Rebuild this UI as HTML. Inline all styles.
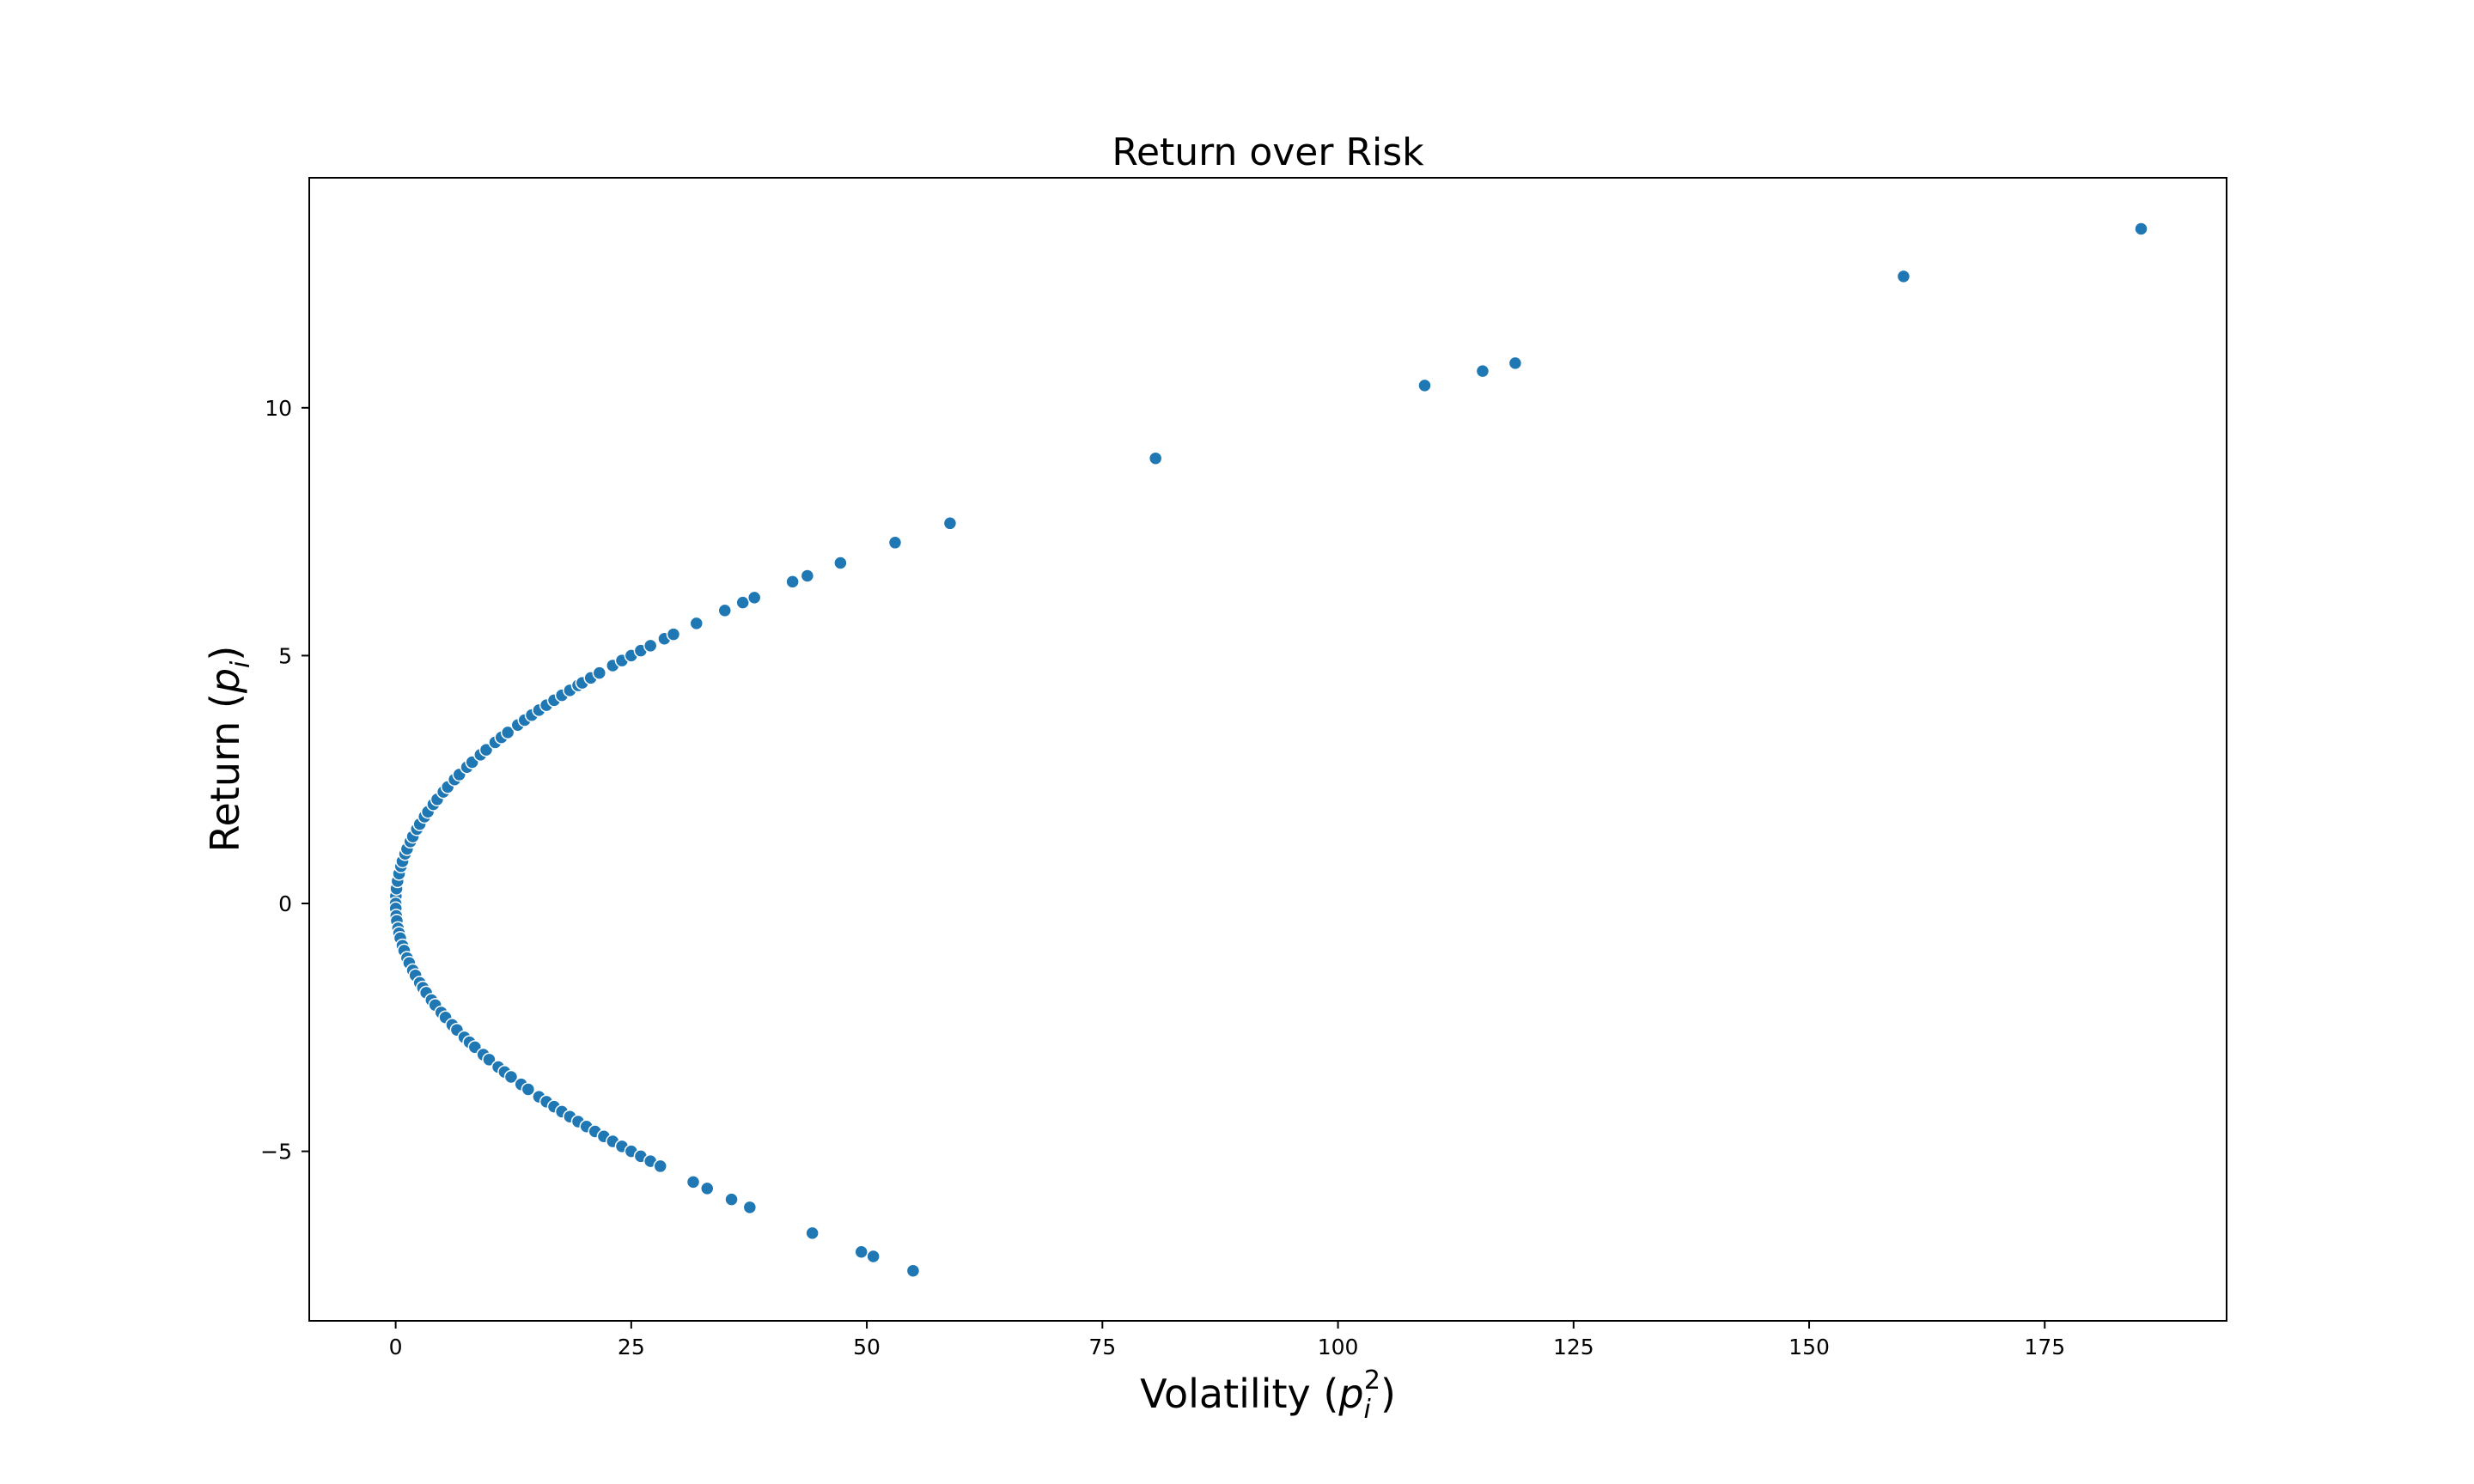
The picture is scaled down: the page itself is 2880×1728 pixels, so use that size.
<!DOCTYPE html>
<html><head><meta charset="utf-8"><style>
html,body{margin:0;padding:0;background:#fff;}
svg{display:block;font-family:"DejaVu Sans","Liberation Sans",sans-serif;}
</style></head><body>
<svg id="chart" width="2880" height="1728" viewBox="0 0 2880 1728" xmlns="http://www.w3.org/2000/svg">
<rect width="2880" height="1728" fill="#fff"/>
<g id="points"></g>
<g id="axes"></g>
<text x="1476" y="192" font-size="44" text-anchor="middle" fill="#000">Return over Risk</text>
<text x="1476" y="1639" font-size="46" text-anchor="middle" fill="#000">Volatility (<tspan font-style="italic">p</tspan><tspan font-style="italic" font-size="30" dy="12">i</tspan><tspan font-size="30" dy="-34" dx="-8">2</tspan><tspan dy="22">)</tspan></text>
<text transform="translate(278,872) rotate(-90)" font-size="46" text-anchor="middle" fill="#000">Return (<tspan font-style="italic">p</tspan><tspan font-style="italic" font-size="30" dy="12">i</tspan><tspan dy="-12">)</tspan></text>
</svg>
<script>
const volatility = [
0.0025,0.0225,0.09,0.2025,0.36,0.5625,0.7225,1.0,1.21,1.5625,1.8225,2.25,2.56,3.0625,3.4225,4.0,4.41,5.0625,5.5225,6.25,6.76,7.5625,8.1225,9.0,9.61,10.5625,11.2225,11.9025,12.96,13.69,14.44,15.21,16.0,16.81,17.64,18.49,19.36,19.8025,20.7025,21.6225,23.04,24.01,25.0,26.01,27.04,
28.52,29.48,31.92,34.93,36.84,38.07,42.12,43.69,47.2,53.0,58.83,80.64,109.2,115.35,118.81,160.02,185.23,
0,0.01,0.0625,0.1225,0.25,0.36,0.49,0.7225,0.9025,1.21,1.44,1.8225,2.1025,2.56,2.89,3.24,3.8025,4.2025,4.84,5.29,6.0025,6.5025,7.29,7.84,8.41,9.3025,9.9225,10.89,11.56,12.25,13.3225,14.0625,15.21,16.0,16.81,17.64,18.49,19.36,20.25,21.16,22.09,23.04,24.01,25.0,26.01,27.04,28.09,
31.58,33.06,35.64,37.58,44.22,49.42,50.69,54.91];
const returns = [
0.05,0.15,0.3,0.45,0.6,0.75,0.85,1.0,1.1,1.25,1.35,1.5,1.6,1.75,1.85,2.0,2.1,2.25,2.35,2.5,2.6,2.75,2.85,3.0,3.1,3.25,3.35,3.45,3.6,3.7,3.8,3.9,4.0,4.1,4.2,4.3,4.4,4.45,4.55,4.65,4.8,4.9,5.0,5.1,5.2,
5.34,5.43,5.65,5.91,6.07,6.17,6.49,6.61,6.87,7.28,7.67,8.98,10.45,10.74,10.9,12.65,13.61,
0,-0.1,-0.25,-0.35,-0.5,-0.6,-0.7,-0.85,-0.95,-1.1,-1.2,-1.35,-1.45,-1.6,-1.7,-1.8,-1.95,-2.05,-2.2,-2.3,-2.45,-2.55,-2.7,-2.8,-2.9,-3.05,-3.15,-3.3,-3.4,-3.5,-3.65,-3.75,-3.9,-4.0,-4.1,-4.2,-4.3,-4.4,-4.5,-4.6,-4.7,-4.8,-4.9,-5.0,-5.1,-5.2,-5.3,
-5.62,-5.75,-5.97,-6.13,-6.65,-7.03,-7.12,-7.41];
const xTicks = [0,25,50,75,100,125,150,175];
const yTicks = [-5,0,5,10];
const xDomain = [-9.17,194.3];
const yDomain = [-8.42,14.64];

const L=360,R=2592,T=207,B=1538;
function sx(v){return L+(v-xDomain[0])/(xDomain[1]-xDomain[0])*(R-L);}
function sy(v){return B-(v-yDomain[0])/(yDomain[1]-yDomain[0])*(B-T);}
const NS="http://www.w3.org/2000/svg";
const pg=document.getElementById('points');
for(let i=0;i<returns.length;i++){
  const c=document.createElementNS(NS,'circle');
  c.setAttribute('cx',sx(volatility[i]));
  c.setAttribute('cy',sy(returns[i]));
  c.setAttribute('r',7.5);
  c.setAttribute('fill','#1f77b4');
  c.setAttribute('stroke','#fff');
  c.setAttribute('stroke-width',1.5);
  
  
  pg.appendChild(c);
}
const ag=document.getElementById('axes');
const frame=document.createElementNS(NS,'rect');
frame.setAttribute('x',L);frame.setAttribute('y',T);frame.setAttribute('width',R-L);frame.setAttribute('height',B-T);
frame.setAttribute('fill','none');frame.setAttribute('stroke','#000');frame.setAttribute('stroke-width',2);


ag.appendChild(frame);
xTicks.forEach(t=>{
  const x=sx(t);
  const ln=document.createElementNS(NS,'line');
  ln.setAttribute('x1',x);ln.setAttribute('x2',x);ln.setAttribute('y1',B);ln.setAttribute('y2',B+9);
  ln.setAttribute('stroke','#000');ln.setAttribute('stroke-width',2);
  
  
  ag.appendChild(ln);
  const tx=document.createElementNS(NS,'text');
  tx.setAttribute('x',x);tx.setAttribute('y',1577);tx.setAttribute('font-size',25);tx.setAttribute('text-anchor','middle');
  tx.textContent=String(t);
  
  
  ag.appendChild(tx);
});
yTicks.forEach(t=>{
  const y=sy(t);
  const ln=document.createElementNS(NS,'line');
  ln.setAttribute('x1',L-9);ln.setAttribute('x2',L);ln.setAttribute('y1',y);ln.setAttribute('y2',y);
  ln.setAttribute('stroke','#000');ln.setAttribute('stroke-width',2);
  
  
  ag.appendChild(ln);
  const tx=document.createElementNS(NS,'text');
  tx.setAttribute('x',340);tx.setAttribute('y',y+9);tx.setAttribute('font-size',25);tx.setAttribute('text-anchor','end');
  tx.textContent=(t<0?'\u2212'+Math.abs(t):String(t));
  
  
  ag.appendChild(tx);
});
</script>
</body></html>
